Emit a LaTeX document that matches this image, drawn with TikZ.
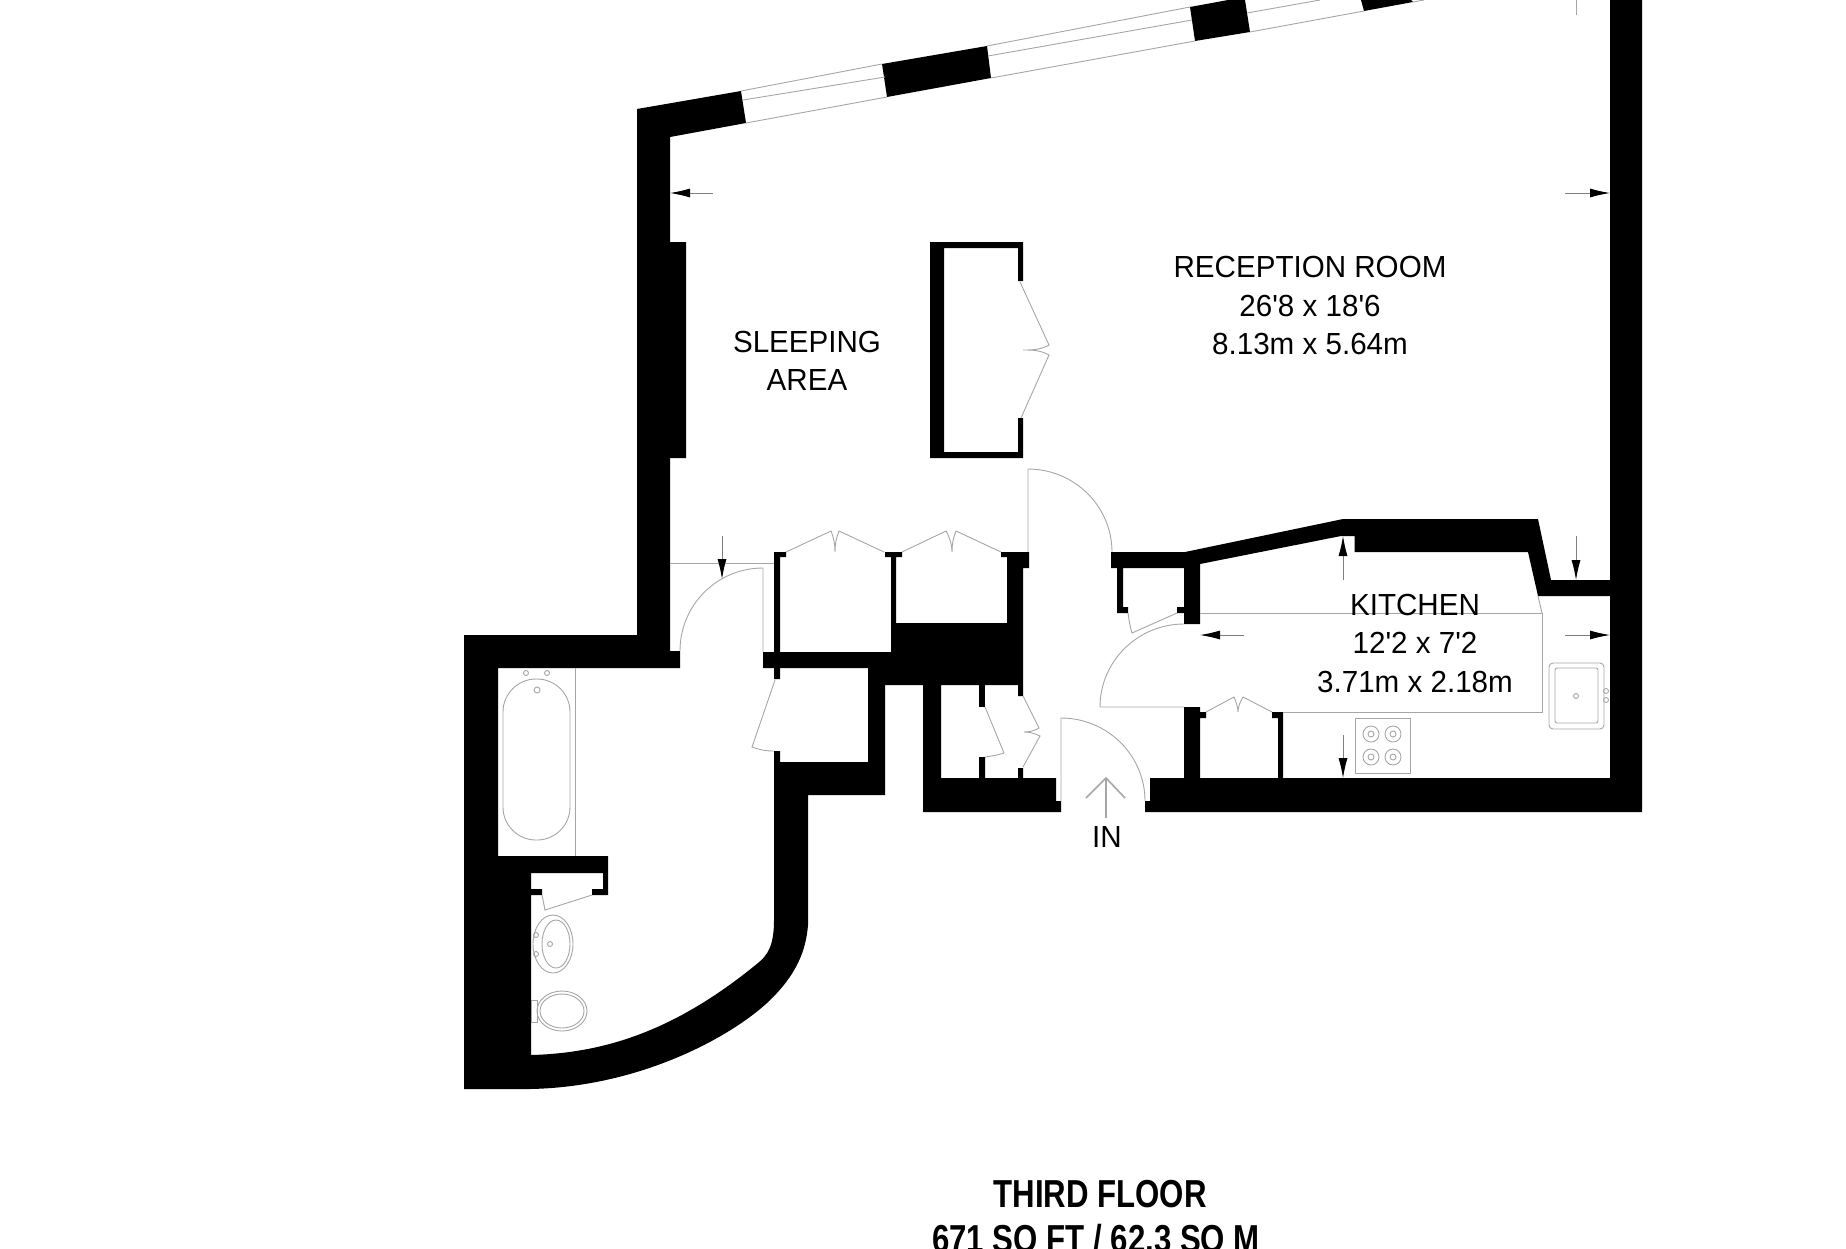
\documentclass[tikz,border=0pt]{standalone}
\usepackage{fontspec}
\newfontfamily\planfont{Liberation Sans}
\usetikzlibrary{arrows.meta}

\tikzset{
    wall/.style={fill=black, draw=none},
    fixture/.style={draw=black!35, line width=0.9pt},
    dimarrow/.style={draw=black!50, line width=0.9pt, -{Latex[length=20pt,width=9pt,color=black]}},
    roomlabel/.style={font=\planfont\fontsize{30.5}{34}\selectfont, anchor=base, inner sep=0pt, xscale=0.97, transform shape},
    floorlabel/.style={font=\planfont\fontsize{39}{42}\selectfont\bfseries, anchor=base, inner sep=0pt, xscale=0.8, transform shape}
}

\begin{document}
\begin{tikzpicture}[x=1pt, y=-1pt]
    \useasboundingbox (0,0) rectangle (1846,1248);

    % walls
    \fill[wall] (637,109) -- (741,91) -- (746,123) -- (670,137) -- (670,242) -- (686,242) -- (686,458) -- (670,458) -- (670,651) -- (680,651) -- (680,668) -- (498,668) -- (498,856) -- (608,856) -- (608,895) -- (592,895) -- (592,889) -- (603,889) -- (603,873) -- (531,873) -- (531,889) -- (542,889) -- (542,895) -- (531,895) -- (531,1055)
        .. controls (610,1053) and (680,1027) .. (758,963) .. controls (768,955) and (774,945) .. (774,920)
        -- (774,751) -- (780,751) -- (780,762) -- (868,762) -- (868,668) -- (885,668) -- (885,795) -- (808,795) -- (808,925)
        .. controls (806,950) and (797,975) .. (767,1003) .. controls (730,1037) and (640,1087) .. (530,1089)
        -- (464,1089) -- (464,635) -- (637,635) -- cycle;
    \fill[wall] (763,652) -- (774,652) -- (774,552) -- (786,552) -- (786,557) -- (780,557) -- (780,652) -- (891,652) -- (891,557) -- (885,557) -- (885,552) -- (902,552) -- (902,557) -- (896,557) -- (896,623) -- (1007,623) -- (1007,557) -- (1001,557) -- (1001,552) -- (1029,552) -- (1029,568) -- (1023,568) -- (1023,696) -- (1018,696) -- (1018,685) -- (941,685) -- (941,778) -- (979,778) -- (979,757) -- (985,757) -- (985,778) -- (1018,778) -- (1018,768) -- (1023,768) -- (1023,778) -- (1056,778) -- (1056,801) -- (1061,801) -- (1061,812) -- (923,812) -- (923,685) -- (868,685) -- (868,668) -- (780,668) -- (780,679) -- (774,679) -- (774,668) -- (763,668) -- cycle;
    \fill[wall] (979,685) rectangle (985,707);
    \fill[wall] (1111,552) -- (1185,552) -- (1343,519) -- (1538,519) -- (1551,580) -- (1610,580) -- (1610,0) -- (1642,0) -- (1642,812) -- (1145,812) -- (1145,801) -- (1150,801) -- (1150,778) -- (1184,778) -- (1184,707) -- (1200,707) -- (1200,712) -- (1206,712) -- (1206,718) -- (1200,718) -- (1200,778) -- (1278,778) -- (1278,718) -- (1272,718) -- (1272,712) -- (1283,712) -- (1283,778) -- (1610,778) -- (1610,596) -- (1538,596) -- (1528,552) -- (1354.5,552) -- (1354.5,536) -- (1341,536) -- (1200,564) -- (1200,624) -- (1184,624) -- (1184,613) -- (1177,613) -- (1177,607) -- (1184,607) -- (1184,568) -- (1123,568) -- (1123,607) -- (1128,607) -- (1128,613) -- (1117,613) -- (1117,568) -- (1111,568) -- cycle;
    \fill[wall] (930,242) -- (1023,242) -- (1023,281) -- (1018,281) -- (1018,248) -- (944,248) -- (944,452) -- (1018,452) -- (1018,418) -- (1023,418) -- (1023,458) -- (930,458) -- cycle;

    % window piers
    \fill[wall] (882,64) -- (987,46) -- (991,78) -- (887,97) -- cycle;
    \fill[wall] (1190,7) -- (1228,0) -- (1245,0) -- (1250,32) -- (1195,41) -- cycle;
    \fill[wall] (1361,0) -- (1364,11) -- (1413,2) -- (1411,0) -- cycle;

    % window lines
    \draw[fixture] (741,91) -- (882,64) (743,100) -- (885,77) (746,123) -- (887,97);
    \draw[fixture] (987,46) -- (1190,7) (988,56) -- (1192,20) (991,78) -- (1195,41);
    \draw[fixture] (1247,13) -- (1320,0) (1250,32) -- (1364,11) (1413,2) -- (1424,0);

    % doors
    \draw[fixture] (763,652) -- (763,568) .. controls (717,568) and (680,605) .. (680,651);
    \draw[fixture] (670,563) -- (774,563);
    \draw[fixture] (1028,552) -- (1028,469) .. controls (1074,469) and (1112,506) .. (1112,552);
    \draw[fixture] (1184,624) .. controls (1138,624) and (1100,661) .. (1100,707) -- (1184,707);
    \draw[fixture] (1061,801) -- (1061,718) .. controls (1107,718) and (1145,755) .. (1145,801);
    \draw[fixture] (775,680) -- (752,747) .. controls (760,750) and (766,751) .. (774,751);
    \draw[fixture] (985,707) -- (1004,753) .. controls (998,755) and (992,756) .. (985,757);
    \draw[fixture] (1128,613) .. controls (1129,620) and (1130,627) .. (1132,633) -- (1177,613);
    \draw[fixture] (542,895) .. controls (543,900) and (544,905) .. (545,910) -- (592,895);

    % folding doors
    \draw[fixture] (786,552) -- (831,531) .. controls (834,538) and (835,545) .. (835,552) .. controls (835,545) and (836,538) .. (839,531) -- (884,552);
    \draw[fixture] (902,552) -- (946,531) .. controls (950,538) and (952,545) .. (952,552) .. controls (952,545) and (953,538) .. (956,531) -- (1001,552);
    \draw[fixture] (1206,712) -- (1234,697) .. controls (1236,702) and (1238,707) .. (1238,712) .. controls (1238,707) and (1240,702) .. (1243,697) -- (1272,712);
    \draw[fixture] (1020,282) -- (1049,345) .. controls (1040,350) and (1032,350) .. (1023,350) .. controls (1032,350) and (1040,350) .. (1049,355) -- (1021,418);
    \draw[fixture] (1023,696) -- (1039,728) .. controls (1034,731) and (1029,732) .. (1024,732) .. controls (1029,732) and (1034,733) .. (1040,736) -- (1023,767);

    % kitchen units
    \draw[fixture] (1200,613) -- (1542,613) -- (1542,712) -- (1283,712);
    \draw[fixture] (1538,596) -- (1542,613);
    \draw[fixture] (1355,718) rectangle (1410,773);
    \foreach \ringx in {1371,1393} {
        \foreach \ringy in {734,757} {
            \draw[fixture] (\ringx,\ringy) circle[radius=8];
            \draw[fixture] (\ringx,\ringy) circle[radius=3];
        }
    }
    \draw[fixture, rounded corners=4pt] (1549,663) rectangle (1604,729);
    \draw[fixture, rounded corners=2pt] (1555,668) rectangle (1598,723);
    \draw[fixture] (1576,696) circle[radius=2.5] (1606,691) circle[radius=2.5] (1606,700) circle[radius=2.5];

    % bathroom fittings
    \draw[fixture] (575,668) -- (575,856);
    \draw[fixture, rounded corners=33pt] (503,679) rectangle (570,840);
    \draw[fixture] (526,673) circle[radius=2.5] (547,673) circle[radius=2.5] (537,690) circle[radius=3];
    \draw[fixture] (553,944) ellipse[x radius=20, y radius=29];
    \draw[fixture] (556,944) ellipse[x radius=14, y radius=24];
    \draw[fixture] (536,935) circle[radius=2.5] (536,954) circle[radius=2.5] (550,944) circle[radius=2.5];
    \draw[fixture] (562,1011) ellipse[x radius=25, y radius=20];
    \draw[fixture] (562,1011) ellipse[x radius=22, y radius=17];
    \draw[fixture] (531,1000) rectangle (537,1022);

    % entrance arrow
    \draw[fixture, line width=1.6pt] (1106,818) -- (1106,778);
    \draw[fixture, line width=1.6pt] (1086,798) -- (1106,778) -- (1125,798);

    % dimension arrows
    \coordinate (roomL) at (713,193);
    \coordinate (roomLtip) at (670,193);
    \coordinate (roomR) at (1565,193);
    \coordinate (roomRtip) at (1610,193);
    \draw[dimarrow] (roomL) -- (roomLtip);
    \draw[dimarrow] (roomR) -- (roomRtip);
    \draw[fixture] (1576,0) -- (1576,15);
    \draw[dimarrow] (722,536) -- (722,579);
    \draw[dimarrow] (1343,580) -- (1343,536);
    \draw[dimarrow] (1576,536) -- (1576,580);
    \draw[dimarrow] (1244,635) -- (1200,635);
    \draw[dimarrow] (1565,635) -- (1610,635);
    \draw[dimarrow] (1343,735) -- (1343,778);

    % labels
    \node[roomlabel] (reception) at (1310,277) {RECEPTION ROOM};
    \node[roomlabel] (receptionft) at (1310,316) {26'8 x 18'6};
    \node[roomlabel] (receptionm) at (1310,354) {8.13m x 5.64m};
    \node[roomlabel] (sleeping) at (807,352) {SLEEPING};
    \node[roomlabel] (area) at (807,390) {AREA};
    \node[roomlabel] (kitchen) at (1415,615) {KITCHEN};
    \node[roomlabel] (kitchenft) at (1415,653) {12'2 x 7'2};
    \node[roomlabel] (kitchenm) at (1415,692) {3.71m x 2.18m};
    \node[roomlabel] (in) at (1107,847) {IN};
    \node[floorlabel] (floor) at (1100,1207) {THIRD FLOOR};
    \node[floorlabel] (floorarea) at (1096,1252) {671 SQ FT / 62.3 SQ M};
\end{tikzpicture}
\end{document}
